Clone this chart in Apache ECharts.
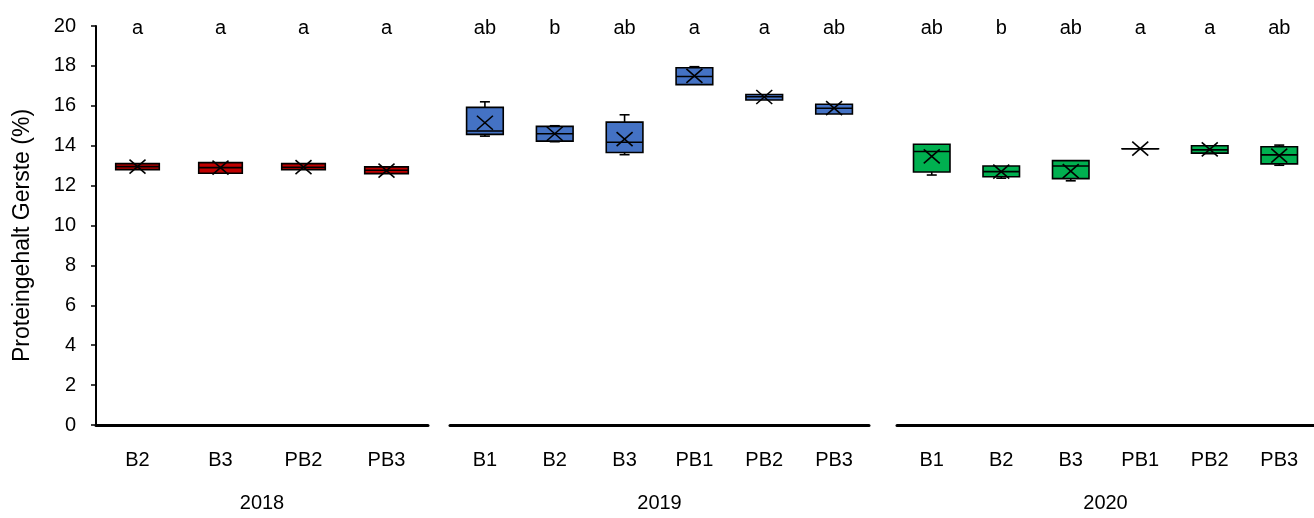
<!DOCTYPE html>
<html>
<head>
<meta charset="utf-8">
<script src="https://cdn.jsdelivr.net/npm/echarts@6/dist/echarts.min.js"></script>
<style>
html,body{margin:0;padding:0;background:#fff;}
#chart{width:1314px;height:518px;}
</style>
</head>
<body>
<div id="chart"></div>
<script>
// ---- data ----
const years = ['2018', '2019', '2020'];
const cats2018 = ['B2', 'B3', 'PB2', 'PB3'];
const cats2019 = ['B1', 'B2', 'B3', 'PB1', 'PB2', 'PB3'];
const cats2020 = ['B1', 'B2', 'B3', 'PB1', 'PB2', 'PB3'];
// each: [min, q1, median, q3, max, mean]
const stats2018 = [
  [12.8, 12.8, 12.95, 13.1, 13.1, 12.95],
  [12.6, 12.62, 12.9, 13.15, 13.15, 12.9],
  [12.8, 12.8, 12.92, 13.1, 13.1, 12.93],
  [12.6, 12.6, 12.77, 12.94, 12.94, 12.75]
];
const stats2019 = [
  [14.48, 14.57, 14.74, 15.92, 16.2, 15.15],
  [14.2, 14.23, 14.6, 14.97, 15.0, 14.6],
  [13.55, 13.66, 14.17, 15.18, 15.55, 14.33],
  [17.06, 17.06, 17.47, 17.91, 17.96, 17.5],
  [16.29, 16.29, 16.45, 16.57, 16.57, 16.44],
  [15.59, 15.59, 15.88, 16.08, 16.1, 15.88]
];
const stats2020 = [
  [12.53, 12.68, 13.71, 14.07, 14.07, 13.47],
  [12.37, 12.44, 12.7, 12.98, 13.0, 12.7],
  [12.24, 12.35, 12.98, 13.25, 13.25, 12.73],
  [13.85, 13.85, 13.85, 13.85, 13.85, 13.85],
  [13.6, 13.63, 13.79, 14.0, 14.0, 13.82],
  [13.02, 13.09, 13.54, 13.95, 14.03, 13.5]
];
const letters2018 = ['a', 'a', 'a', 'a'];
const letters2019 = ['ab', 'b', 'ab', 'a', 'a', 'ab'];
const letters2020 = ['ab', 'b', 'ab', 'a', 'a', 'ab'];
const yTicks = [0, 2, 4, 6, 8, 10, 12, 14, 16, 18, 20];
const yName = 'Proteingehalt Gerste (%)';
const letterLevel = 20;

// ---- styling ----
const FONT = 'Liberation Sans, Arial, sans-serif';
const colors = ['#c00000', '#4472c4', '#00b050'];
const groups = [
  {cats: cats2018, stats: stats2018, letters: letters2018, left: 96, width: 332},
  {cats: cats2019, stats: stats2019, letters: letters2019, left: 450, width: 419},
  {cats: cats2020, stats: stats2020, letters: letters2020, left: 897, width: 419}
];

function boxRenderer(color) {
  return function (params, api) {
    const x = api.value(0);
    const pMin = api.coord([x, api.value(1)]);
    const pQ1 = api.coord([x, api.value(2)]);
    const pMed = api.coord([x, api.value(3)]);
    const pQ3 = api.coord([x, api.value(4)]);
    const pMax = api.coord([x, api.value(5)]);
    const pMean = api.coord([x, api.value(6)]);
    const band = api.size([1, 0])[0];
    const bw = band * 0.525;
    const cx = pQ1[0];
    const cap = 10;
    const ls = {stroke: '#000', lineWidth: 1.6};
    const ch = [];
    if (pMax[1] < pQ3[1] - 0.5) {
      ch.push({type: 'line', shape: {x1: cx, y1: pMax[1], x2: cx, y2: pQ3[1]}, style: ls});
      ch.push({type: 'line', shape: {x1: cx - cap / 2, y1: pMax[1], x2: cx + cap / 2, y2: pMax[1]}, style: ls});
    }
    if (pMin[1] > pQ1[1] + 0.5) {
      ch.push({type: 'line', shape: {x1: cx, y1: pQ1[1], x2: cx, y2: pMin[1]}, style: ls});
      ch.push({type: 'line', shape: {x1: cx - cap / 2, y1: pMin[1], x2: cx + cap / 2, y2: pMin[1]}, style: ls});
    }
    ch.push({type: 'rect', shape: {x: cx - bw / 2, y: pQ3[1], width: bw, height: Math.max(pQ1[1] - pQ3[1], 0.01)},
      style: {fill: color, stroke: '#000', lineWidth: 1.6}});
    ch.push({type: 'line', shape: {x1: cx - bw / 2, y1: pMed[1], x2: cx + bw / 2, y2: pMed[1]}, style: ls});
    const mw = 8, mh = 7;
    ch.push({type: 'line', shape: {x1: cx - mw, y1: pMean[1] - mh, x2: cx + mw, y2: pMean[1] + mh}, style: ls});
    ch.push({type: 'line', shape: {x1: cx - mw, y1: pMean[1] + mh, x2: cx + mw, y2: pMean[1] - mh}, style: ls});
    return {type: 'group', children: ch};
  };
}

function letterRenderer(params, api) {
  const p = api.coord([api.value(0), api.value(1)]);
  return {type: 'text', x: p[0], y: p[1] + 2,
    style: {text: api.value(2), align: 'center', verticalAlign: 'middle', fontSize: 20, fontFamily: FONT, fill: '#000'}};
}

const grid = [], xAxis = [], yAxis = [], series = [];
groups.forEach((g, i) => {
  grid.push({left: g.left, width: g.width, top: 26, bottom: 84, containLabel: false});
  xAxis.push({
    type: 'category', gridIndex: i, data: g.cats,
    name: years[i], nameLocation: 'middle', nameGap: 68,
    nameTextStyle: {fontSize: 20, fontFamily: FONT, color: '#000'},
    axisLine: {lineStyle: {color: '#000', width: 3}},
    axisTick: {show: false},
    axisLabel: {fontSize: 20, fontFamily: FONT, color: '#000', margin: 25}
  });
  yAxis.push({
    type: 'value', gridIndex: i, min: 0, max: 20, interval: 2, show: i === 0,
    name: i === 0 ? yName : '', nameLocation: 'middle', nameGap: 62,
    nameTextStyle: {fontSize: 23, fontFamily: FONT, color: '#000', padding: [0, 20, 0, 0]},
    axisLine: {show: true, lineStyle: {color: '#000', width: 2}},
    axisTick: {show: true, length: 5, inside: false, lineStyle: {color: '#000', width: 1.5}},
    axisLabel: {fontSize: 20, fontFamily: FONT, color: '#000', margin: 20,
      formatter: v => yTicks.includes(v) ? String(v) : ''},
    splitLine: {show: false}
  });
  series.push({
    type: 'custom', xAxisIndex: i, yAxisIndex: i, clip: false,
    renderItem: boxRenderer(colors[i]),
    encode: {x: 0, y: [1, 2, 3, 4, 5, 6]},
    data: g.stats.map((s, k) => [k].concat(s))
  });
  series.push({
    type: 'custom', xAxisIndex: i, yAxisIndex: i, clip: false,
    renderItem: letterRenderer,
    encode: {x: 0, y: 1},
    data: g.letters.map((t, k) => [k, letterLevel, t])
  });
});

const chart = echarts.init(document.getElementById('chart'), null, {renderer: 'canvas'});
chart.setOption({
  animation: false,
  backgroundColor: '#fff',
  grid, xAxis, yAxis, series
});
</script>
</body>
</html>
